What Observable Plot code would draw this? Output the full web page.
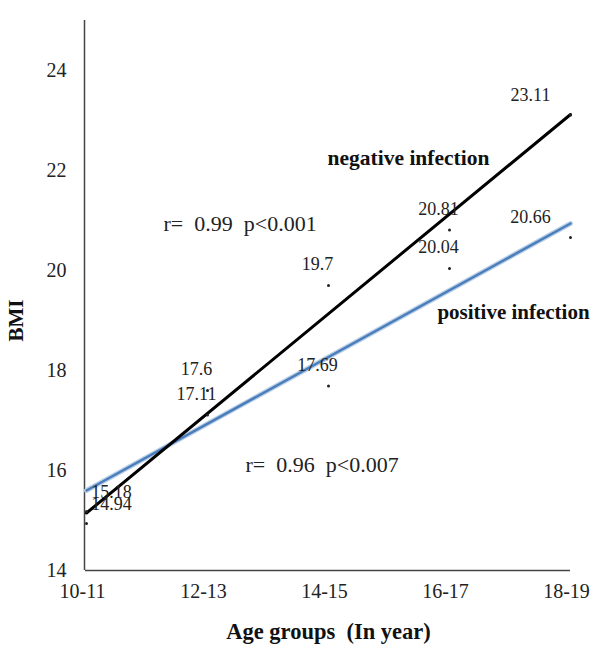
<!DOCTYPE html>
<html><head><meta charset="utf-8">
<script src="https://cdn.jsdelivr.net/npm/d3@7"></script>
<script src="https://cdn.jsdelivr.net/npm/@observablehq/plot@0.6"></script>
<style>body{margin:0;background:#fff}</style>
</head><body><div id="chart"></div>
<script>
const ageGroups = ["10-11", "12-13", "14-15", "16-17", "18-19"];
const negativeBMI = [15.18, 17.6, 19.7, 20.81, 23.11];
const positiveBMI = [14.94, 17.11, 17.69, 20.04, 20.66];
const negativeTrend = [15.15, 23.12];
const positiveTrend = [15.6, 20.94];
const yTicks = [14, 16, 18, 20, 22, 24];
const seriesNames = ["negative infection", "positive infection"];
const statLabels = ["r=\u00a0 0.99\u00a0 p<0.001", "r=\u00a0 0.96\u00a0 p<0.007"];
const yTitle = "BMI";
const xTitle = "Age groups\u00a0 (In year)";

const pts = [];
ageGroups.forEach((g, i) => {
  pts.push({age: g, i, bmi: negativeBMI[i], s: "neg"});
  pts.push({age: g, i, bmi: positiveBMI[i], s: "pos"});
});
const last = ageGroups.length - 1;
const trendNeg = [{age: ageGroups[0], v: negativeTrend[0]}, {age: ageGroups[last], v: negativeTrend[1]}];
const trendPos = [{age: ageGroups[0], v: positiveTrend[0]}, {age: ageGroups[last], v: positiveTrend[1]}];
const lab = {x: "age", y: "bmi", text: d => String(d.bmi), fontSize: 18, fill: "#222"};
const note = {text: d => d, frameAnchor: "top-left", textAnchor: "middle", lineAnchor: "middle"};

const chart = Plot.plot({
  width: 592, height: 645,
  marginLeft: 85, marginRight: 22, marginTop: 20, marginBottom: 75,
  style: {fontFamily: "'Liberation Serif', 'Times New Roman', serif", background: "#fff", color: "#222"},
  x: {type: "point", domain: ageGroups, padding: 0},
  y: {domain: [14, 25]},
  marks: [
    Plot.axisY(yTicks, {tickSize: 0, tickPadding: 19, fontSize: 20, label: null, tickFormat: d => String(d)}),
    Plot.axisX({tickSize: 0, tickPadding: 13, fontSize: 20, label: null, dx: -4}),
    Plot.ruleY([14], {stroke: "#444", strokeWidth: 1.5}),
    Plot.ruleX([ageGroups[0]], {stroke: "#444", strokeWidth: 1.5, dx: -2}),
    Plot.line(trendPos, {x: "age", y: "v", stroke: "#bcd0e8", strokeWidth: 5}),
    Plot.line(trendPos, {x: "age", y: "v", stroke: "#4a7ebb", strokeWidth: 2.5}),
    Plot.line(trendNeg, {x: "age", y: "v", stroke: "#000", strokeWidth: 3}),
    Plot.dot(pts, {x: "age", y: "bmi", r: 1.5, fill: "#222", stroke: null}),
    Plot.text(pts.filter(d => d.i === 0), {...lab, dx: 25, dy: -19}),
    Plot.text(pts.filter(d => d.i === last), {...lab, dx: -40, dy: -20}),
    Plot.text(pts.filter(d => d.i > 0 && d.i < last), {...lab, dx: -11, dy: -21}),
    Plot.text([seriesNames[0]], {...note, dx: 323, dy: 138, fontSize: 21.5, fontWeight: "bold", fill: "#111"}),
    Plot.text([seriesNames[1]], {...note, dx: 428, dy: 292, fontSize: 21, fontWeight: "bold", fill: "#111"}),
    Plot.text([statLabels[0]], {...note, textAnchor: "start", dx: 78, dy: 203, fontSize: 22, fill: "#222"}),
    Plot.text([statLabels[1]], {...note, textAnchor: "start", dx: 160, dy: 444, fontSize: 22, fill: "#222"}),
    Plot.text([yTitle], {...note, dx: -69, dy: 300, rotate: -90, fontSize: 21, fontWeight: "bold", fill: "#111"}),
    Plot.text([xTitle], {...note, dx: 243, dy: 611, fontSize: 22.5, fontWeight: "bold", fill: "#111"})
  ]
});
document.getElementById("chart").appendChild(chart);
</script>
</body></html>
